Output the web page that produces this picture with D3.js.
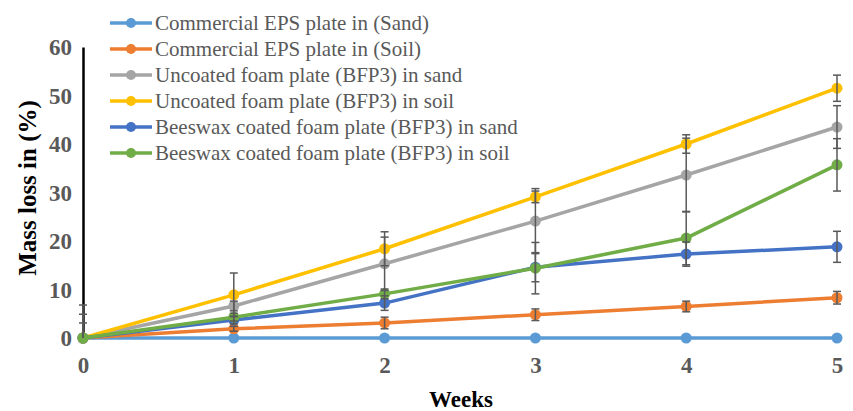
<!DOCTYPE html>
<meta charset="utf-8">
<head>
  <title>Mass loss</title>
</head>

<style>
body {
  margin: 0;
  background: #fff;
}
text {
  font-family: "Liberation Serif", "Times New Roman", serif;
}
</style>

<body>
  <div id="content">
    <svg width="853" height="411"></svg>
  </div>

  <script src="https://cdnjs.cloudflare.com/ajax/libs/d3/7.8.5/d3.min.js"></script>

  <script>
// data
var weeks = [0, 1, 2, 3, 4, 5];
var yTicks = [0, 10, 20, 30, 40, 50, 60];

var names = [
  'Commercial EPS plate in (Sand)',
  'Commercial EPS plate in (Soil)',
  'Uncoated foam plate (BFP3) in sand',
  'Uncoated foam plate (BFP3) in soil',
  'Beeswax coated foam plate (BFP3) in sand',
  'Beeswax coated foam plate (BFP3) in soil'
];
var colors = ['#5B9BD5', '#ED7D31', '#A5A5A5', '#FFC000', '#4472C4', '#70AD47'];

var epsSand = [0, 0, 0, 0, 0, 0];
var epsSoil = [0, 1.9, 3.1, 4.8, 6.5, 8.3];
var uncSand = [0, 6.6, 15.3, 24.1, 33.6, 43.5];
var uncSoil = [0, 8.9, 18.4, 29.1, 40.0, 51.5];
var bwSand  = [0, 3.7, 7.2, 14.6, 17.3, 18.8];
var bwSoil  = [0, 4.3, 9.1, 14.4, 20.6, 35.7];

// error bar sizes
var epsSandErr = [0, 0, 0, 0, 0, 0];
var epsSoilErr = [0, 0.5, 1.2, 1.2, 1.1, 1.3];
var uncSandErr = [4.9, 1.0, 5.5, 6.7, 7.6, 4.4];
var uncSoilErr = [6.8, 4.5, 3.5, 1.2, 1.9, 2.7];
var bwSandErr  = [0, 0.8, 1.5, 3.0, 2.5, 3.2];
var bwSoilErr  = [3.1, 0.8, 1.0, 5.3, 5.5, 5.4];

var values = [epsSand, epsSoil, uncSand, uncSoil, bwSand, bwSoil];
var errors = [epsSandErr, epsSoilErr, uncSandErr, uncSoilErr, bwSandErr, bwSoilErr];

var series = names.map(function(n, i) {
  return {
    name: n,
    color: colors[i],
    points: weeks.map(function(w, j) { return {x: w, y: values[i][j], e: errors[i][j]}; })
  };
});

var svg = d3.select('#content svg');

var x = d3.scaleLinear().domain([0, 5]).range([83, 837]);
var y = d3.scaleLinear().domain([0, 60]).range([338, 47]);

// y axis
var yAxis = svg.append('g')
  .attr('transform', 'translate(83,0)')
  .call(d3.axisLeft(y).tickValues(yTicks).tickSize(0).tickPadding(11));
yAxis.select('.domain').attr('stroke', '#000').attr('stroke-width', 2.5);
yAxis.selectAll('text')
  .attr('font-family', '"Liberation Serif", serif')
  .attr('font-size', 23)
  .attr('font-weight', 'bold')
  .attr('fill', '#595959')
  .attr('dy', '0.34em');

// x axis
var xAxis = svg.append('g')
  .attr('transform', 'translate(0,338)')
  .call(d3.axisBottom(x).tickValues(weeks).tickFormat(d3.format('d')).tickSize(0).tickPadding(19));
xAxis.select('.domain').attr('stroke', '#D9D9D9').attr('stroke-width', 1);
xAxis.selectAll('text')
  .attr('font-family', '"Liberation Serif", serif')
  .attr('font-size', 23)
  .attr('font-weight', 'bold')
  .attr('fill', '#595959');

// axis titles
svg.append('text')
  .attr('x', 461).attr('y', 407)
  .attr('text-anchor', 'middle')
  .attr('font-size', 23)
  .attr('font-weight', 'bold')
  .attr('fill', '#000')
  .text('Weeks');

svg.append('text')
  .attr('transform', 'translate(36,188) rotate(-90)')
  .attr('text-anchor', 'middle')
  .attr('font-size', 25)
  .attr('font-weight', 'bold')
  .attr('fill', '#000')
  .text('Mass loss in (%)');

// lines + markers
var line = d3.line().x(function(d) { return x(d.x); }).y(function(d) { return y(d.y); });

svg.append('clipPath').attr('id', 'plot')
  .append('rect').attr('x', 0).attr('y', 30).attr('width', 853).attr('height', 308);

series.forEach(function(s) {
  var g = svg.append('g');
  g.append('path')
    .attr('d', line(s.points))
    .attr('fill', 'none')
    .attr('stroke', s.color)
    .attr('stroke-width', 3.5)
    .attr('stroke-linejoin', 'round');
  g.selectAll('circle')
    .data(s.points)
    .enter().append('circle')
    .attr('cx', function(d) { return x(d.x); })
    .attr('cy', function(d) { return y(d.y); })
    .attr('r', 5.5)
    .attr('fill', s.color);
});

// error bars
var eb = svg.append('g').attr('clip-path', 'url(#plot)')
  .attr('stroke', '#595959').attr('stroke-width', 1.5);
series.forEach(function(s) {
  s.points.filter(function(d) { return d.e > 0; }).forEach(function(d) {
    var cx = x(d.x);
    eb.append('line')
      .attr('x1', cx).attr('x2', cx)
      .attr('y1', y(d.y + d.e)).attr('y2', y(d.y - d.e));
    [d.y + d.e, d.y - d.e].forEach(function(v) {
      eb.append('line')
        .attr('x1', cx - 4).attr('x2', cx + 4)
        .attr('y1', y(v)).attr('y2', y(v));
    });
  });
});

// legend
var legend = svg.append('g').attr('transform', 'translate(110,23)');
series.forEach(function(s, i) {
  var row = legend.append('g').attr('transform', 'translate(0,' + (i * 26) + ')');
  row.append('line')
    .attr('x1', 0).attr('x2', 42)
    .attr('stroke', s.color).attr('stroke-width', 3.5);
  row.append('circle').attr('cx', 21).attr('r', 5).attr('fill', s.color);
  row.append('text')
    .attr('x', 45).attr('dy', '0.33em')
    .attr('font-size', 21)
    .attr('fill', '#595959')
    .text(s.name);
});
  </script>
</body>
</html>
